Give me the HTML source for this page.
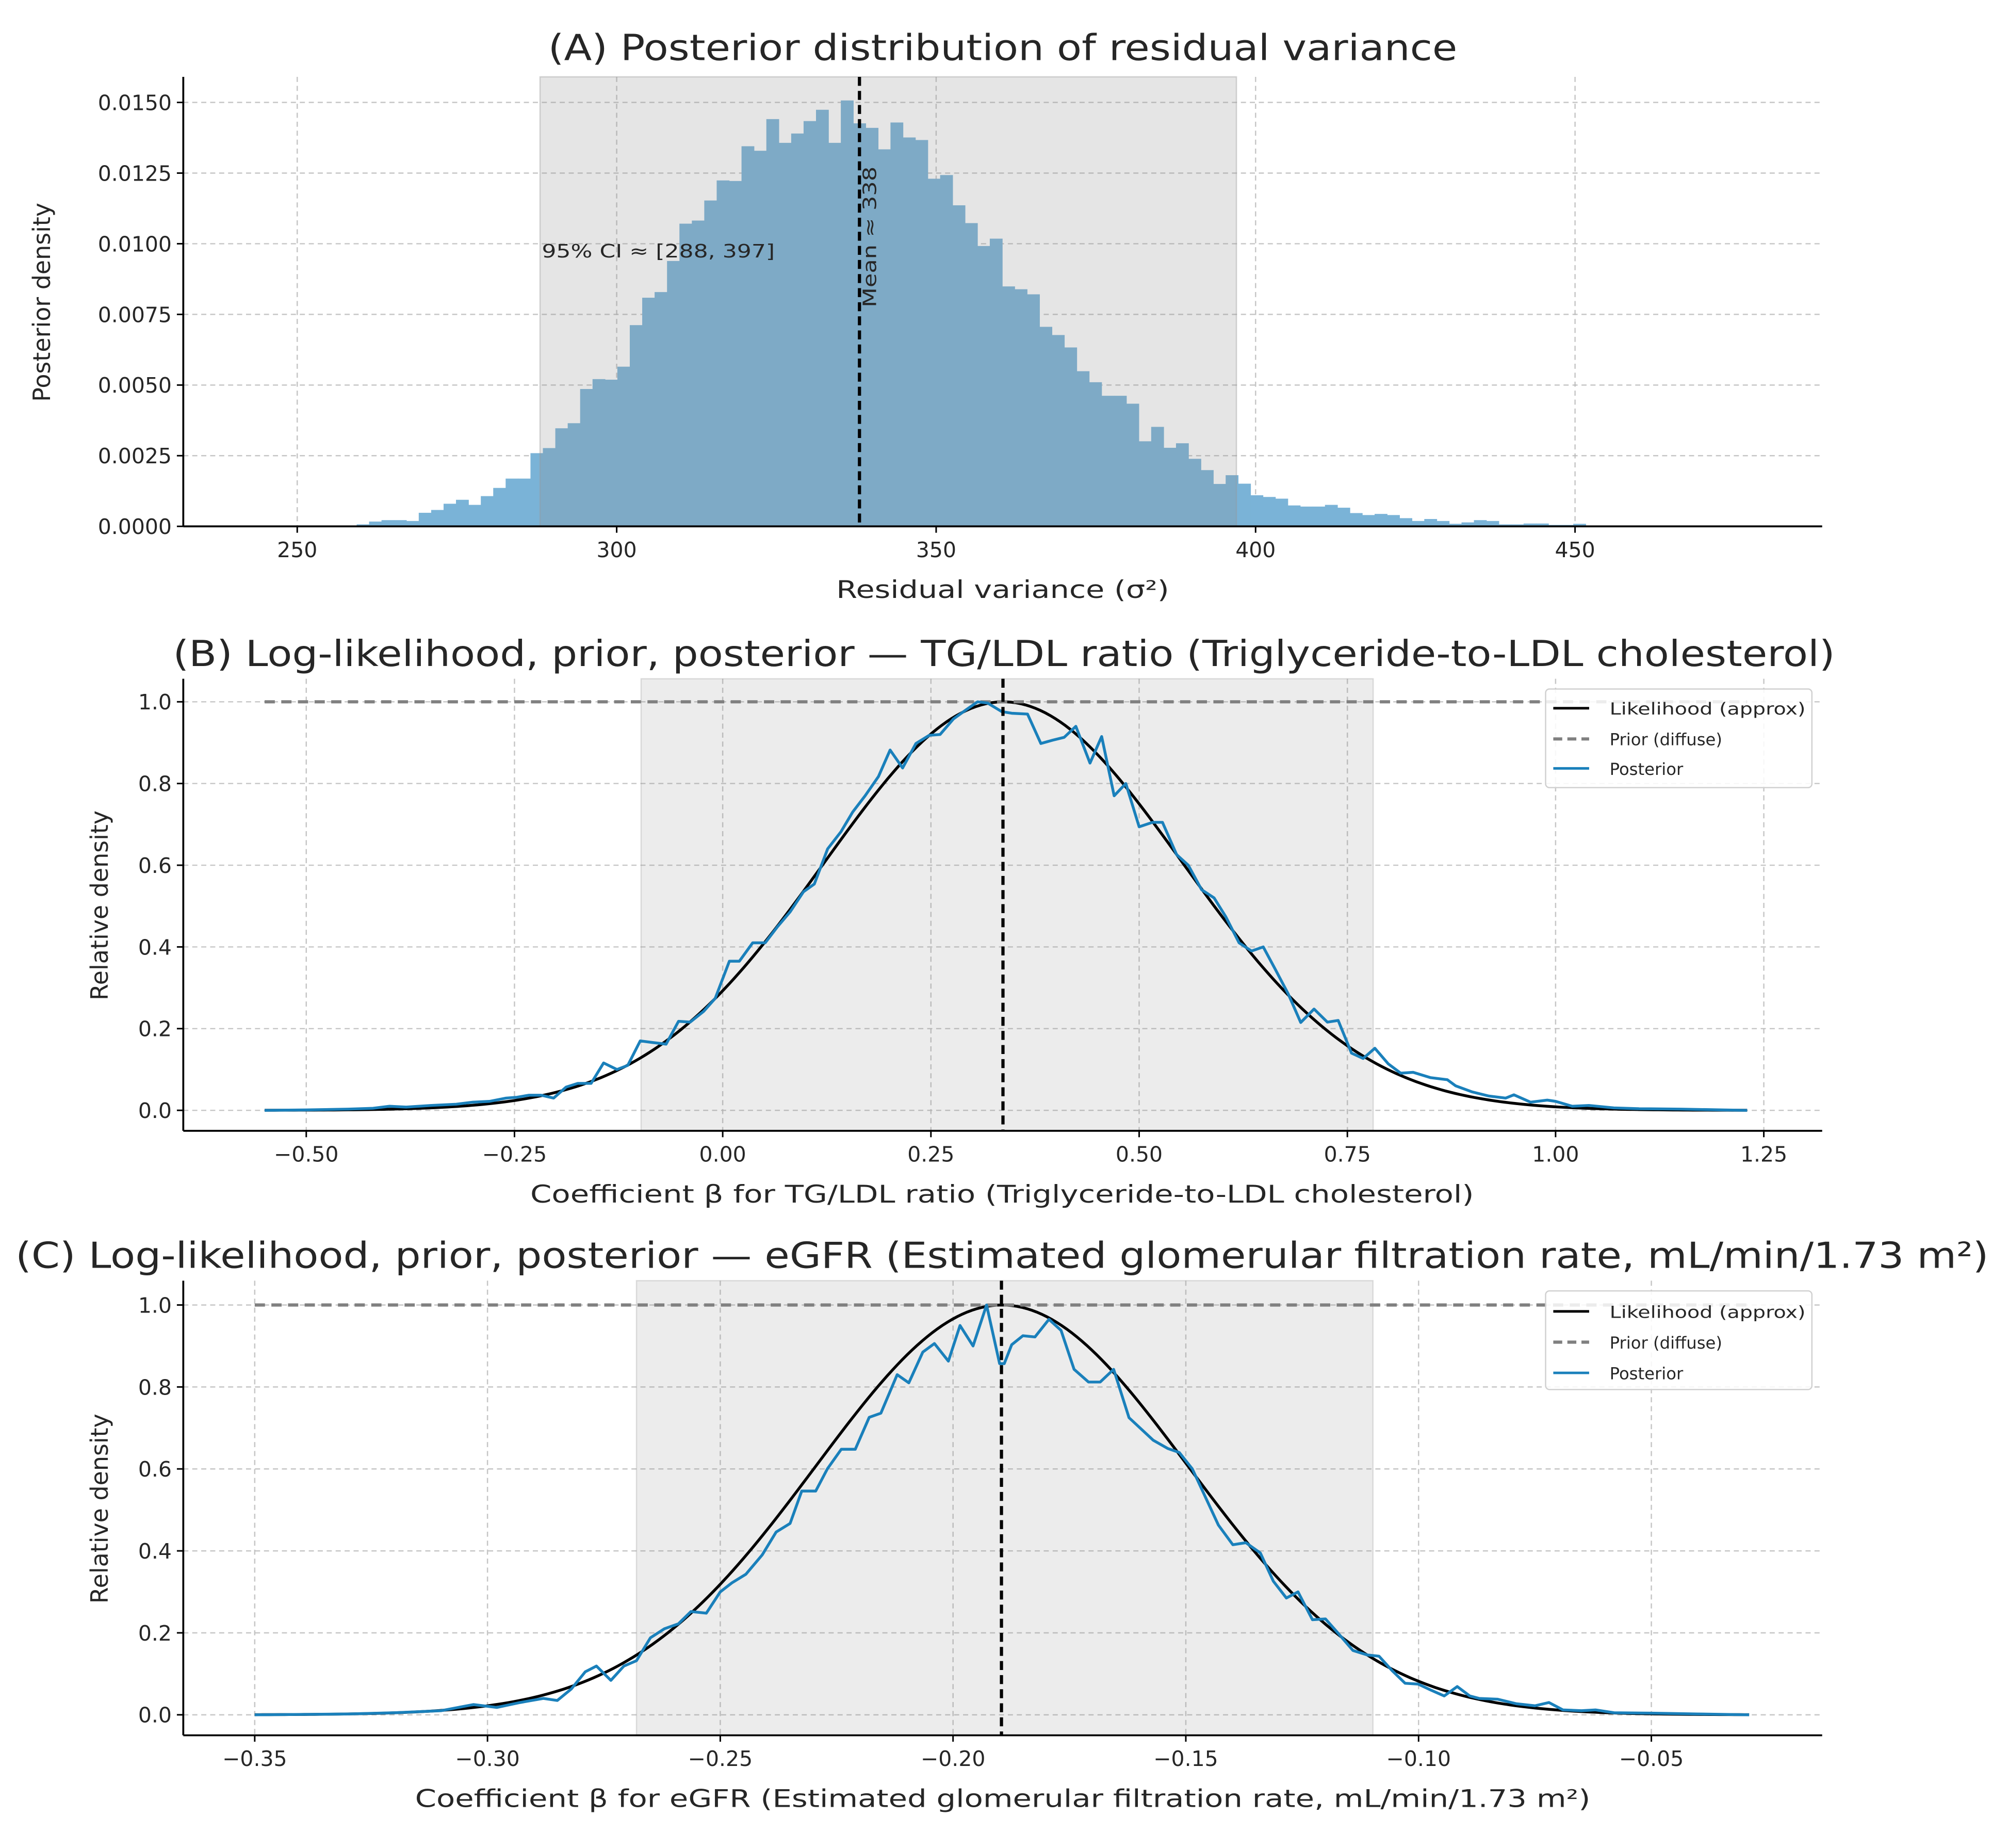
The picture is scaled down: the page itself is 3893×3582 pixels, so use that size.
<!DOCTYPE html>
<html><head><meta charset="utf-8">
<style>
html,body{margin:0;padding:0;background:#fff;}
svg{display:block;}
text{font-family:"DejaVu Sans","Liberation Sans",sans-serif;fill:#262626;}
</style></head>
<body>
<svg id="fig" xmlns="http://www.w3.org/2000/svg" width="3893" height="3582" viewBox="0 0 1568 1443">
<rect x="0" y="0" width="1568" height="1443" fill="#fff"/>
<g id="gA"></g>
<g id="gB"></g>
<g id="gC"></g>

<text x="428" y="47" font-size="28" textLength="710" lengthAdjust="spacingAndGlyphs">(A) Posterior distribution of residual variance</text>
<text x="653" y="467" font-size="19" textLength="260" lengthAdjust="spacingAndGlyphs">Residual variance (σ²)</text>
<text transform="translate(39,236) rotate(-90)" font-size="18.5" text-anchor="middle">Posterior density</text>
<text x="423" y="201" font-size="14.5" textLength="182" lengthAdjust="spacingAndGlyphs">95% CI ≈ [288, 397]</text>
<text transform="translate(684,240) rotate(-90)" font-size="14.5" textLength="110" lengthAdjust="spacingAndGlyphs">Mean ≈ 338</text>

<text x="135" y="520" font-size="28" textLength="1298" lengthAdjust="spacingAndGlyphs">(B) Log-likelihood, prior, posterior — TG/LDL ratio (Triglyceride-to-LDL cholesterol)</text>
<text x="414" y="939" font-size="19" textLength="737" lengthAdjust="spacingAndGlyphs">Coefficient β for TG/LDL ratio (Triglyceride-to-LDL cholesterol)</text>
<text transform="translate(84,707) rotate(-90)" font-size="18.5" text-anchor="middle">Relative density</text>

<text x="12" y="990" font-size="28" textLength="1541" lengthAdjust="spacingAndGlyphs">(C) Log-likelihood, prior, posterior — eGFR (Estimated glomerular filtration rate, mL/min/1.73 m²)</text>
<text x="324" y="1411" font-size="19" textLength="918" lengthAdjust="spacingAndGlyphs">Coefficient β for eGFR (Estimated glomerular filtration rate, mL/min/1.73 m²)</text>
<text transform="translate(84,1178) rotate(-90)" font-size="18.5" text-anchor="middle">Relative density</text>

<g>
<rect x="1207" y="538" width="208" height="77" rx="3" fill="#fff" fill-opacity="0.85" stroke="#d0d0d0"/>
<line x1="1213" y1="553" x2="1241" y2="553" stroke="#000" stroke-width="2"/>
<text x="1257" y="558" font-size="13" textLength="153" lengthAdjust="spacingAndGlyphs">Likelihood (approx)</text>
<line x1="1213" y1="577" x2="1241" y2="577" stroke="#808080" stroke-width="2.5" stroke-dasharray="7,4"/>
<text x="1257" y="582" font-size="13">Prior (diffuse)</text>
<line x1="1213" y1="600" x2="1241" y2="600" stroke="#1a80bb" stroke-width="2"/>
<text x="1257" y="605" font-size="13">Posterior</text>
</g>
<g>
<rect x="1207" y="1008" width="208" height="77" rx="3" fill="#fff" fill-opacity="0.85" stroke="#d0d0d0"/>
<line x1="1213" y1="1024" x2="1241" y2="1024" stroke="#000" stroke-width="2"/>
<text x="1257" y="1029" font-size="13" textLength="153" lengthAdjust="spacingAndGlyphs">Likelihood (approx)</text>
<line x1="1213" y1="1048" x2="1241" y2="1048" stroke="#808080" stroke-width="2.5" stroke-dasharray="7,4"/>
<text x="1257" y="1053" font-size="13">Prior (diffuse)</text>
<line x1="1213" y1="1072" x2="1241" y2="1072" stroke="#1a80bb" stroke-width="2"/>
<text x="1257" y="1077" font-size="13">Posterior</text>
</g>
</svg>
<script>
// ---------- Panel A data ----------
const histBinStart = [243.76];
const histBinWidth = [1.943];
const histDensity = [0.00003,0,0,0,0,0,0,0.00003,
0.00007,0.00017,0.00022,0.00022,0.00019,0.00048,0.00058,0.0008,0.00094,0.00076,0.00107,0.00136,0.00169,0.00169,0.00259,0.00277,0.00347,0.00365,0.00486,0.00521,0.00519,
0.00565,0.00712,0.00809,0.00829,0.00939,0.01071,0.01082,0.01153,0.01224,0.01222,0.01345,0.01329,0.01441,0.01357,0.0139,
0.01434,0.01474,0.01357,0.01507,0.01426,0.0141,0.01334,0.01429,0.01376,0.01367,0.0123,0.01243,0.01136,0.01073,0.00992,0.01018,0.00849,0.00839,0.00821,0.00706,0.00677,0.00633,0.00549,0.0051,0.00462,0.00462,0.00434,0.00301,0.00352,0.00278,0.00294,0.00239,0.00199,0.0015,0.00181,
0.00151,0.0011,0.00104,0.00098,0.00074,0.0007,0.0007,0.00076,0.00066,0.00047,0.0004,0.00044,0.0004,0.00029,0.00019,0.00026,0.00019,0.00009,0.00014,0.00022,0.00019,0.00007,0.00007,0.0001,0.0001,0.00005,0.00005,0.00009];
const aCI = [288, 397];
const aMean = [338];
const aXTicks = [250,300,350,400,450];
const aYTicks = [0,0.0025,0.005,0.0075,0.01,0.0125,0.015];
const aYTickLabels = ["0.0000","0.0025","0.0050","0.0075","0.0100","0.0125","0.0150"];

// ---------- Panel B data ----------
const bPostX = [-0.55,-0.5,-0.45,-0.42,-0.40,-0.38,-0.35,-0.32,-0.30,-0.28,-0.26,-0.247,-0.233,-0.218,-0.203,-0.188,-0.174,-0.158,-0.143,-0.127,-0.114,-0.099,-0.084,-0.068,-0.053,-0.039,-0.023,-0.009,0.008,0.02,0.036,0.051,0.066,0.081,0.097,0.11,0.126,0.142,0.156,0.171,0.187,0.201,0.216,0.232,0.248,0.261,0.277,0.292,0.306,0.318,0.335,0.347,0.366,0.382,0.396,0.41,0.424,0.441,0.455,0.47,0.484,0.5,0.516,0.528,0.545,0.559,0.575,0.59,0.604,0.62,0.635,0.649,0.663,0.679,0.694,0.71,0.726,0.739,0.755,0.769,0.783,0.799,0.814,0.829,0.85,0.87,0.88,0.90,0.92,0.94,0.95,0.97,0.99,1.0,1.02,1.04,1.07,1.1,1.15,1.2,1.23];
const bPostY = [0,0.001,0.003,0.005,0.01,0.008,0.012,0.015,0.02,0.022,0.03,0.032,0.037,0.037,0.03,0.057,0.066,0.066,0.116,0.1,0.11,0.17,0.166,0.162,0.218,0.216,0.242,0.274,0.365,0.365,0.41,0.41,0.45,0.486,0.535,0.554,0.64,0.682,0.73,0.77,0.817,0.882,0.838,0.898,0.918,0.92,0.958,0.98,1.0,0.997,0.976,0.972,0.97,0.898,0.906,0.913,0.94,0.85,0.915,0.77,0.8,0.694,0.705,0.705,0.626,0.6,0.54,0.52,0.474,0.41,0.39,0.4,0.347,0.285,0.215,0.248,0.216,0.22,0.14,0.127,0.152,0.114,0.091,0.093,0.08,0.075,0.06,0.045,0.035,0.03,0.038,0.02,0.025,0.022,0.01,0.012,0.006,0.004,0.003,0.001,0];
const bLikMean = [0.337];
const bLikSd = [0.215];
const bRange = [-0.55, 1.23];
const bCI = [-0.098, 0.781];
const bMean = [0.3365];
const bXTicks = [-0.5,-0.25,0,0.25,0.5,0.75,1.0,1.25];
const bXTickLabels = ["−0.50","−0.25","0.00","0.25","0.50","0.75","1.00","1.25"];
const relYTicks = [0,0.2,0.4,0.6,0.8,1.0];
const relYTickLabels = ["0.0","0.2","0.4","0.6","0.8","1.0"];

// ---------- Panel C data ----------
const cPostX = [-0.35,-0.34,-0.33,-0.32,-0.31,-0.303,-0.298,-0.293,-0.288,-0.285,-0.282,-0.279,-0.2766,-0.2735,-0.2707,-0.268,-0.265,-0.262,-0.259,-0.2563,-0.253,-0.25,-0.2475,-0.2445,-0.241,-0.238,-0.235,-0.2325,-0.2295,-0.227,-0.224,-0.221,-0.218,-0.2155,-0.212,-0.2095,-0.2065,-0.204,-0.201,-0.1985,-0.1957,-0.1928,-0.190,-0.189,-0.1874,-0.185,-0.1824,-0.1794,-0.1768,-0.174,-0.1709,-0.1684,-0.1655,-0.1622,-0.157,-0.1539,-0.1514,-0.1486,-0.143,-0.1399,-0.1371,-0.134,-0.1312,-0.1284,-0.1259,-0.1228,-0.12,-0.1172,-0.1141,-0.111,-0.1085,-0.1057,-0.1029,-0.1001,-0.0973,-0.0945,-0.0917,-0.089,-0.087,-0.083,-0.079,-0.075,-0.072,-0.069,-0.065,-0.062,-0.058,-0.05,-0.04,-0.034,-0.029];
const cPostY = [0,0.001,0.002,0.005,0.01,0.025,0.018,0.03,0.04,0.035,0.063,0.105,0.119,0.084,0.119,0.132,0.188,0.21,0.222,0.252,0.248,0.30,0.322,0.343,0.39,0.446,0.467,0.546,0.546,0.6,0.648,0.648,0.726,0.736,0.83,0.81,0.885,0.906,0.863,0.95,0.90,1.0,0.857,0.857,0.903,0.925,0.922,0.965,0.938,0.843,0.812,0.812,0.843,0.725,0.67,0.65,0.64,0.60,0.463,0.415,0.42,0.395,0.326,0.285,0.30,0.232,0.234,0.198,0.157,0.146,0.143,0.108,0.077,0.075,0.06,0.046,0.069,0.046,0.04,0.038,0.027,0.022,0.03,0.012,0.01,0.012,0.005,0.004,0.002,0.001,0];
const cLikMean = [-0.1895];
const cLikSd = [0.040];
const cRange = [-0.35, -0.029];
const cCI = [-0.268, -0.1098];
const cMean = [-0.1896];
const cXTicks = [-0.35,-0.30,-0.25,-0.20,-0.15,-0.10,-0.05];
const cXTickLabels = ["−0.35","−0.30","−0.25","−0.20","−0.15","−0.10","−0.05"];

const NS = 'http://www.w3.org/2000/svg';
function mk(tag, attrs, parent){
  const e = document.createElementNS(NS, tag);
  for (const k in attrs) e.setAttribute(k, attrs[k]);
  parent.appendChild(e);
  return e;
}

function drawGrid(g, box, sx, sy, xt, yt, prefix){
  xt.forEach(v=>{
    const l = mk('line',{x1:sx(v),x2:sx(v),y1:box.top,y2:box.bottom,stroke:'#b8b8b8','stroke-width':1,'stroke-dasharray':'4,3','stroke-opacity':0.8},g);
    
    
  });
  yt.forEach(v=>{
    const l = mk('line',{x1:box.left,x2:box.right,y1:sy(v),y2:sy(v),stroke:'#b8b8b8','stroke-width':1,'stroke-dasharray':'4,3','stroke-opacity':0.8},g);
    
    
  });
}
function drawTicks(g, box, sx, sy, xt, xl, yt, yl, prefix){
  xt.forEach((v,i)=>{
    const t = mk('line',{x1:sx(v),x2:sx(v),y1:box.bottom,y2:box.bottom+5,stroke:'#000','stroke-width':1.2},g);
    
    
    const tx = mk('text',{x:sx(v),y:box.bottom+24,'font-size':16.5,'text-anchor':'middle'},g);
    tx.textContent = xl[i];
    
    
  });
  yt.forEach((v,i)=>{
    const t = mk('line',{x1:box.left-5,x2:box.left,y1:sy(v),y2:sy(v),stroke:'#000','stroke-width':1.2},g);
    
    
    const tx = mk('text',{x:box.left-9,y:sy(v)+6,'font-size':16.5,'text-anchor':'end'},g);
    tx.textContent = yl[i];
    
    
  });
  const ax = mk('line',{x1:box.left,x2:box.right,y1:box.bottom,y2:box.bottom,stroke:'#000','stroke-width':1.5},g);
  
  
  const ay = mk('line',{x1:box.left,x2:box.left,y1:box.top,y2:box.bottom,stroke:'#000','stroke-width':1.5},g);
  
  
}

// ---------- Panel A ----------
(function(){
  const g = document.getElementById('gA');
  const box = {left:143,right:1423,top:60,bottom:411};
  const sx = v => 232 + (v-250)*4.99;
  const sy = d => 411 - d/0.0025*55.17;
  drawGrid(g, box, sx, sy, aXTicks, aYTicks, 'panel-a');
  histDensity.forEach((d,i)=>{
    if (d<=0) return;
    const x0 = histBinStart[0] + i*histBinWidth[0];
    const r = mk('rect',{x:sx(x0),y:sy(d),width:sx(x0+histBinWidth[0])-sx(x0)+0.3,height:sy(0)-sy(d),fill:'#7ab3d7'},g);
    
    
  });
  const ci = mk('rect',{x:sx(aCI[0]),y:box.top,width:sx(aCI[1])-sx(aCI[0]),height:box.bottom-box.top,fill:'#8f8f8f','fill-opacity':0.233,stroke:'#999','stroke-opacity':0.4},g);
  
  
  const m = mk('line',{x1:sx(aMean[0]),x2:sx(aMean[0]),y1:box.top,y2:box.bottom,stroke:'#000','stroke-width':2.5,'stroke-dasharray':'7,4'},g);
  
  
  drawTicks(g, box, sx, sy, aXTicks, aXTicks.map(String), aYTicks, aYTickLabels, 'panel-a');
})();

function linePanel(gid, box, sx, sy, xt, xl, ci, mean, range, likMean, likSd, px, py, prefix){
  const g = document.getElementById(gid);
  drawGrid(g, box, sx, sy, xt, relYTicks, prefix);
  const band = mk('rect',{x:sx(ci[0]),y:box.top,width:sx(ci[1])-sx(ci[0]),height:box.bottom-box.top,fill:'#8f8f8f','fill-opacity':0.17,stroke:'#999','stroke-opacity':0.3},g);
  
  
  let d = '';
  const n = 300;
  for (let i=0;i<=n;i++){
    const v = range[0] + (range[1]-range[0])*i/n;
    const y = Math.exp(-Math.pow(v-likMean[0],2)/(2*likSd[0]*likSd[0]));
    d += (i?'L':'M') + sx(v).toFixed(2) + ',' + sy(y).toFixed(2);
  }
  const lk = mk('path',{d:d,fill:'none',stroke:'#000','stroke-width':2.2},g);
  
  
  const pr = mk('line',{x1:sx(range[0]),x2:sx(range[1]),y1:sy(1),y2:sy(1),stroke:'#808080','stroke-width':2.5,'stroke-dasharray':'8,5'},g);
  
  
  let pd = '';
  px.forEach((v,i)=>{ pd += (i?'L':'M') + sx(v).toFixed(2) + ',' + sy(py[i]).toFixed(2); });
  const po = mk('path',{d:pd,fill:'none',stroke:'#1a80bb','stroke-width':2.2,'stroke-linejoin':'round'},g);
  
  
  const m = mk('line',{x1:sx(mean[0]),x2:sx(mean[0]),y1:box.top,y2:box.bottom,stroke:'#000','stroke-width':2.5,'stroke-dasharray':'7,4'},g);
  
  
  drawTicks(g, box, sx, sy, xt, xl, relYTicks, relYTickLabels, prefix);
}

linePanel('gB', {left:143,right:1423,top:530,bottom:883}, v=>564.3+v*650.5, y=>867-y*319,
  bXTicks, bXTickLabels, bCI, bMean, bRange, bLikMean, bLikSd, bPostX, bPostY, 'panel-b');
linePanel('gC', {left:143,right:1423,top:1000,bottom:1355}, v=>198.8+(v+0.35)*3636, y=>1339-y*320,
  cXTicks, cXTickLabels, cCI, cMean, cRange, cLikMean, cLikSd, cPostX, cPostY, 'panel-c');
</script>
</body></html>
